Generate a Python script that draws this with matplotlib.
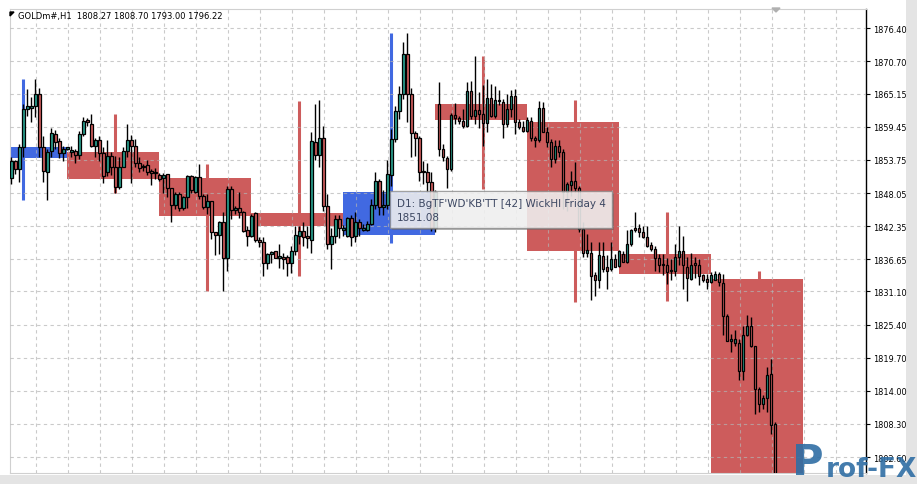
import numpy as np
import matplotlib.pyplot as plt
from matplotlib.patches import Rectangle, Polygon

# H1 candles, bar index 0 = leftmost visible bar
opens = [
    1850.6, 1853.6, 1852.2, 1855.9, 1862.5, 1862.7, 1863.0, 1865.1, 1855.9, 1851.7,
    1855.2, 1858.2, 1857.0, 1854.9, 1855.7, 1855.1, 1855.2, 1854.6, 1858.2, 1860.6,
    1860.0, 1856.2, 1857.2, 1854.9, 1851.6, 1854.4, 1852.6, 1849.0, 1852.6, 1855.2,
    1857.2, 1856.2, 1853.2, 1852.5, 1852.8, 1851.8, 1851.5, 1851.2, 1850.6, 1851.3,
    1848.9, 1845.9, 1847.8, 1845.4, 1847.3, 1850.9, 1848.3, 1850.8, 1847.5, 1845.7,
    1846.6, 1841.3, 1840.8, 1843.0, 1836.8, 1848.7, 1845.1, 1845.4, 1844.8, 1841.7,
    1840.6, 1844.6, 1840.0, 1839.7, 1836.0, 1837.6, 1838.0, 1836.9, 1837.1, 1837.1,
    1836.0, 1838.1, 1840.7, 1841.5, 1840.6, 1840.0, 1856.8, 1854.6, 1857.5, 1845.8,
    1839.2, 1840.7, 1843.5, 1841.6, 1840.7, 1843.8, 1840.6, 1843.1, 1841.7, 1841.7,
    1842.8, 1845.9, 1850.1, 1845.6, 1846.0, 1851.2, 1857.4, 1862.2, 1865.1, 1872.0,
    1865.1, 1858.3, 1857.6, 1851.9, 1851.6, 1849.9, 1842.0, 1863.4, 1855.6, 1854.0,
    1852.2, 1861.5, 1860.9, 1860.5, 1859.6, 1865.6, 1861.3, 1862.3, 1861.7, 1860.1,
    1864.4, 1861.3, 1863.8, 1863.7, 1859.9, 1862.5, 1864.8, 1860.3, 1859.4, 1858.8,
    1860.5, 1857.5, 1857.1, 1862.6, 1858.6, 1856.9, 1853.9, 1856.1, 1855.1, 1848.2,
    1849.5, 1850.1, 1848.9, 1841.9, 1837.8, 1837.8, 1833.9, 1833.0, 1837.2, 1835.3,
    1835.0, 1836.7, 1835.5, 1837.6, 1836.2, 1839.3, 1842.0, 1842.0, 1841.4, 1840.4,
    1839.1, 1838.4, 1836.8, 1835.6, 1835.6, 1834.6, 1834.6, 1837.0, 1838.0, 1835.3,
    1833.3, 1835.7, 1835.7, 1833.9, 1833.3, 1832.7, 1833.1, 1834.1, 1832.6, 1826.9,
    1822.6, 1822.2, 1822.2, 1817.5, 1823.6, 1825.2, 1821.7, 1814.4, 1811.7, 1812.8,
    1816.9, 1808.27]
highs = [
    1854.2, 1853.7, 1856.5, 1863.4, 1866.0, 1864.5, 1867.7, 1866.1, 1857.9, 1855.6,
    1859.2, 1858.9, 1857.6, 1856.2, 1856.0, 1856.2, 1855.6, 1858.8, 1861.1, 1860.9,
    1861.6, 1857.6, 1857.8, 1855.9, 1857.1, 1855.1, 1854.5, 1854.2, 1855.9, 1859.9,
    1858.0, 1857.4, 1854.2, 1853.0, 1853.8, 1852.2, 1852.3, 1851.5, 1851.5, 1851.3,
    1848.9, 1848.2, 1848.2, 1847.5, 1851.2, 1851.2, 1851.0, 1853.0, 1847.9, 1847.9,
    1846.7, 1841.3, 1843.3, 1844.7, 1849.2, 1849.2, 1845.8, 1848.2, 1845.0, 1842.4,
    1844.4, 1844.7, 1840.4, 1840.4, 1837.8, 1838.1, 1838.1, 1839.3, 1837.7, 1837.4,
    1839.0, 1842.4, 1842.4, 1843.1, 1842.4, 1858.5, 1863.4, 1864.0, 1859.6, 1847.9,
    1842.1, 1844.2, 1844.2, 1842.6, 1844.0, 1844.2, 1844.7, 1843.6, 1842.7, 1843.3,
    1847.0, 1851.6, 1850.5, 1848.6, 1853.7, 1859.1, 1863.1, 1866.5, 1874.0, 1875.6,
    1866.2, 1858.8, 1857.8, 1853.6, 1853.3, 1851.6, 1848.6, 1867.1, 1856.5, 1854.5,
    1861.9, 1863.5, 1861.3, 1862.5, 1867.1, 1867.4, 1871.7, 1865.4, 1866.6, 1867.7,
    1866.8, 1866.5, 1865.7, 1864.2, 1865.1, 1865.7, 1866.0, 1860.8, 1860.5, 1861.1,
    1861.2, 1857.9, 1863.9, 1863.7, 1859.4, 1857.3, 1857.1, 1857.2, 1855.6, 1849.9,
    1851.9, 1853.4, 1849.3, 1843.0, 1841.0, 1839.6, 1834.5, 1839.6, 1839.6, 1837.3,
    1839.6, 1837.6, 1838.3, 1838.1, 1841.6, 1841.9, 1844.7, 1842.7, 1842.4, 1842.4,
    1839.6, 1839.0, 1837.6, 1837.6, 1836.8, 1836.7, 1839.3, 1842.4, 1840.7, 1837.0,
    1837.8, 1837.0, 1836.7, 1834.1, 1834.1, 1834.5, 1834.7, 1834.4, 1834.1, 1827.2,
    1823.8, 1824.4, 1822.9, 1825.2, 1827.1, 1826.7, 1821.8, 1814.6, 1813.2, 1818.1,
    1819.5, 1808.70]
lows = [
    1849.6, 1851.4, 1850.0, 1854.3, 1861.3, 1860.2, 1861.1, 1854.2, 1849.9, 1846.9,
    1854.3, 1855.6, 1854.0, 1853.5, 1855.5, 1854.3, 1853.2, 1853.9, 1857.9, 1859.6,
    1856.0, 1854.3, 1853.5, 1849.8, 1851.0, 1851.2, 1848.1, 1848.7, 1852.5, 1854.2,
    1849.8, 1852.6, 1851.6, 1851.9, 1851.2, 1849.5, 1850.5, 1850.2, 1848.1, 1847.4,
    1843.1, 1845.3, 1845.0, 1845.2, 1845.4, 1848.1, 1848.1, 1847.1, 1845.3, 1844.4,
    1840.1, 1837.3, 1837.6, 1831.2, 1834.7, 1843.6, 1844.4, 1843.7, 1841.3, 1839.0,
    1840.5, 1839.7, 1838.7, 1833.8, 1835.0, 1836.0, 1836.8, 1835.1, 1834.9, 1833.8,
    1834.2, 1837.3, 1839.3, 1839.0, 1838.6, 1837.8, 1853.8, 1852.6, 1845.0, 1838.4,
    1834.9, 1839.4, 1840.3, 1840.7, 1840.4, 1838.9, 1839.6, 1840.7, 1841.5, 1841.5,
    1842.6, 1845.3, 1844.2, 1844.2, 1845.3, 1849.3, 1856.8, 1860.8, 1864.2, 1860.2,
    1854.2, 1854.5, 1850.2, 1849.6, 1848.2, 1841.5, 1841.3, 1854.5, 1853.6, 1848.9,
    1851.9, 1859.9, 1859.9, 1859.3, 1859.4, 1860.8, 1859.9, 1859.2, 1856.2, 1858.5,
    1861.1, 1861.0, 1863.2, 1857.6, 1859.4, 1861.1, 1858.2, 1859.1, 1858.5, 1858.5,
    1857.0, 1855.9, 1856.8, 1858.5, 1855.9, 1852.6, 1853.3, 1854.2, 1845.3, 1845.0,
    1847.6, 1848.2, 1841.3, 1837.0, 1837.0, 1829.7, 1830.4, 1831.7, 1834.4, 1831.5,
    1834.7, 1835.3, 1835.3, 1836.1, 1836.0, 1839.0, 1841.3, 1840.4, 1840.3, 1838.7,
    1838.1, 1834.7, 1834.4, 1833.9, 1832.4, 1833.0, 1833.8, 1835.6, 1831.6, 1829.5,
    1833.1, 1833.5, 1832.2, 1832.8, 1831.6, 1832.6, 1833.0, 1832.0, 1823.6, 1822.5,
    1820.6, 1821.7, 1815.8, 1815.9, 1823.5, 1821.5, 1810.0, 1810.3, 1810.9, 1810.3,
    1806.6, 1793.00]
closes = [
    1853.5, 1852.2, 1855.9, 1862.5, 1863.0, 1863.0, 1865.1, 1855.9, 1851.9, 1855.1,
    1858.3, 1856.9, 1854.9, 1855.7, 1855.9, 1855.5, 1854.6, 1858.2, 1860.4, 1860.2,
    1856.2, 1857.2, 1854.9, 1850.9, 1854.5, 1852.6, 1849.0, 1852.6, 1855.2, 1857.2,
    1856.2, 1853.2, 1852.3, 1852.6, 1851.7, 1851.5, 1851.3, 1850.5, 1851.2, 1848.9,
    1845.9, 1847.8, 1845.4, 1847.3, 1850.9, 1848.5, 1850.8, 1847.5, 1845.7, 1846.6,
    1841.3, 1840.9, 1843.0, 1836.8, 1848.7, 1845.1, 1845.4, 1844.8, 1841.5, 1840.6,
    1844.1, 1840.0, 1839.7, 1836.0, 1837.6, 1837.8, 1836.9, 1837.0, 1836.7, 1836.0,
    1838.1, 1840.8, 1841.5, 1840.4, 1840.3, 1857.0, 1854.6, 1857.5, 1845.8, 1839.2,
    1840.6, 1843.5, 1842.0, 1842.1, 1843.8, 1840.4, 1843.1, 1842.0, 1842.1, 1842.8,
    1845.9, 1850.1, 1845.6, 1846.0, 1851.4, 1857.4, 1862.1, 1865.1, 1872.0, 1865.1,
    1858.3, 1857.6, 1851.7, 1851.6, 1849.9, 1842.0, 1848.2, 1855.6, 1854.2, 1852.2,
    1861.5, 1860.9, 1860.5, 1859.6, 1865.6, 1861.3, 1862.3, 1861.7, 1860.1, 1864.4,
    1861.3, 1864.1, 1863.7, 1859.9, 1862.5, 1864.8, 1860.3, 1859.4, 1858.8, 1860.7,
    1857.5, 1857.1, 1862.6, 1858.6, 1856.9, 1853.9, 1856.1, 1855.1, 1848.2, 1849.6,
    1850.1, 1848.9, 1841.9, 1837.8, 1838.2, 1833.8, 1833.0, 1837.3, 1834.9, 1834.7,
    1836.7, 1835.4, 1838.0, 1836.2, 1839.3, 1841.6, 1841.6, 1841.3, 1840.4, 1839.0,
    1838.4, 1836.8, 1835.6, 1835.5, 1834.5, 1834.8, 1837.0, 1838.0, 1835.7, 1833.4,
    1835.7, 1835.5, 1833.8, 1833.1, 1832.7, 1833.9, 1834.1, 1832.7, 1826.8, 1822.6,
    1822.9, 1822.9, 1817.5, 1823.6, 1825.2, 1821.7, 1814.4, 1811.7, 1812.8, 1816.7,
    1808.2, 1796.22]

# D1 background candles (first H1 bar of each day)
day_start = [-8, 15, 38, 61, 84, 107, 130, 153, 176]
day_open = [1854.1, 1855.1, 1850.6, 1844.6, 1840.9, 1863.4, 1860.3, 1837.6, 1833.2]
day_high = [1867.7, 1861.6, 1853.0, 1863.9, 1875.6, 1871.7, 1864.1, 1844.8, 1834.7]
day_low = [1846.9, 1848.1, 1831.2, 1833.8, 1839.4, 1848.7, 1829.3, 1829.5, 1793.0]
day_close = [1856.0, 1850.5, 1844.1, 1842.3, 1848.3, 1860.7, 1838.0, 1834.1, 1796.22]

price_ticks = [1876.40, 1870.70, 1865.15, 1859.45, 1853.75, 1848.05, 1842.35,
               1836.65, 1831.10, 1825.40, 1819.70, 1814.00, 1808.30, 1802.60]

title = "GOLDm#,H1  1808.27 1808.70 1793.00 1796.22"
tip_line1 = "D1: BgTF'WD'KB'TT [42] WickHI Friday 4"
tip_line2 = "1851.08"

UP = '#2a9d8c'
DOWN = '#cd5c5c'
BOX_UP = '#4169e1'
BOX_DOWN = '#cd5c5c'

W, H = 917, 485
fig = plt.figure(figsize=(W / 100, H / 100), dpi=100)
ax = fig.add_axes([10 / W, 11 / H, 856 / W, 464 / H])

o = np.array(opens); c = np.array(closes)
hi = np.array(highs); lo = np.array(lows)
x = np.arange(len(o))

# daily boxes + wicks
ds = np.array(day_start); do = np.array(day_open); dc = np.array(day_close)
dcol = [BOX_UP if b >= a else BOX_DOWN for a, b in zip(do, dc)]
ax.bar(ds - 1, dc - do, bottom=do, width=23, align='edge', color=dcol,
       linewidth=0, zorder=1)
ax.vlines(ds + 11, day_low, day_high, colors=dcol, linewidth=2.2, zorder=1)

# grid
ax.set_xticks(np.arange(6.1, 214, 8))
ax.set_yticks(price_ticks)
ax.grid(True, color='#b4b4b4', alpha=0.7, linestyle=(0, (3, 3)), linewidth=0.8,
        zorder=1.5)
ax.set_axisbelow(False)

# H1 candles
ccol = [UP if b >= a else DOWN for a, b in zip(o, c)]
ax.vlines(x, lo, hi, colors='black', linewidth=1.0, zorder=3)
body = np.where(np.abs(c - o) < 0.25, 0.25, c - o)
ax.bar(x, body, bottom=o, width=0.62, color=ccol, edgecolor='black',
       linewidth=0.9, zorder=4)

ax.set_xlim(-0.33, 213.7)
ax.set_ylim(1799.86, 1879.72)

ax.yaxis.tick_right()
ax.set_yticklabels(['%.2f' % v for v in price_ticks])
ax.tick_params(axis='y', direction='out', length=3, width=0.8, pad=2,
               labelsize=5.9, colors='black')
ax.tick_params(axis='x', length=0, labelbottom=False)
for s in ['left', 'top', 'bottom']:
    ax.spines[s].set_color('#d0d0d0')
    ax.spines[s].set_linewidth(0.8)
ax.spines['right'].set_color('black')
ax.spines['right'].set_linewidth(1.0)

# header text
fig.text(18 / W, 1 - 16 / H, title, fontsize=6.0, va='center', ha='left')
fig.add_artist(Polygon([[10 / W, 1 - 13 / H], [14 / W, 1 - 13 / H], [10 / W, 1 - 17 / H]],
                       closed=True, color='black', transform=fig.transFigure))
fig.add_artist(Polygon([[772 / W, 1 - 9 / H], [780 / W, 1 - 9 / H], [776 / W, 1 - 13 / H]],
                       closed=True, color='#b0b0b0', transform=fig.transFigure))

# tooltip
fig.add_artist(Rectangle((392 / W, 1 - 231 / H), 222 / W, 37 / H, transform=fig.transFigure,
                         facecolor='#606060', edgecolor='none', alpha=0.45, zorder=10))
fig.add_artist(Rectangle((390 / W, 1 - 229 / H), 222 / W, 37 / H, transform=fig.transFigure,
                         facecolor='white', edgecolor='#8a8a8a', linewidth=1,
                         alpha=0.8, zorder=11))
fig.text(397 / W, 1 - 204 / H, tip_line1, fontsize=7.5, color='#3c4762', va='center', zorder=12)
fig.text(397 / W, 1 - 218 / H, tip_line2, fontsize=7.5, color='#3c4762', va='center', zorder=12)

# window shadow
fig.add_artist(Rectangle((906 / W, 0), 11 / W, 1, transform=fig.transFigure,
                         facecolor='#e4e4e4', edgecolor='none', zorder=0))
fig.add_artist(Rectangle((0, 0), 1, 9 / H, transform=fig.transFigure,
                         facecolor='#e4e4e4', edgecolor='none', zorder=0))

# watermark
fig.text(792 / W, 1 / H, 'P', fontsize=31, fontweight='bold', color='#2f6ea4',
         alpha=0.9, va='bottom', ha='left', zorder=20)
fig.text(826 / W, 2 / H, 'rof-FX', fontsize=19, fontweight='bold', color='#2f6ea4',
         alpha=0.9, va='bottom', ha='left', zorder=20)

fig.savefig('out.png', dpi=100)
